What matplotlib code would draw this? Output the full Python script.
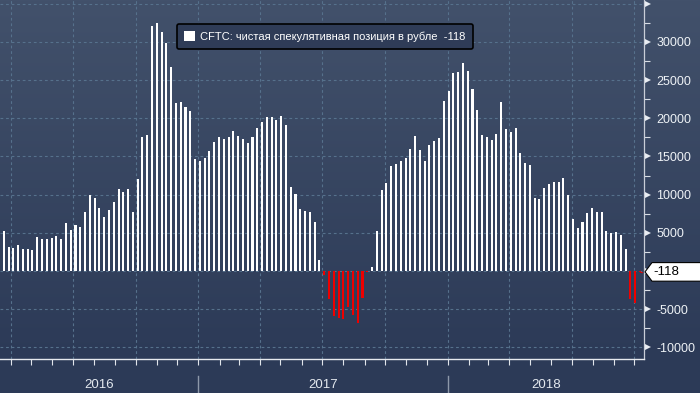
import numpy as np
import pandas as pd
import matplotlib
matplotlib.use("Agg")
import matplotlib.pyplot as plt
import matplotlib.dates as mdates
import matplotlib.ticker as mticker
from matplotlib.patches import Polygon
from matplotlib.transforms import IdentityTransform

plt.rcParams['font.family'] = ['Liberation Sans', 'DejaVu Sans']
plt.rcParams['axes.unicode_minus'] = False

# ---------------- data ----------------
series_label = "CFTC: чистая спекулятивная позиция в рубле  -118"
first_date = "2016-03-22"   # weekly (Tuesday) CFTC reports
net_position = [
    5280, 3140, 3010, 3400, 2880, 2880, 2750, 4450, 4190, 4190,
    4320, 4590, 4190, 6290, 5370, 6030, 5760, 7730, 9960, 9560,
    8250, 7070, 7990, 9040, 10740, 10350, 10740, 7730, 12050, 17550,
    17820, 32100, 32490, 31310, 29870, 26720, 22010, 22140, 21480, 20960,
    14670, 14410, 14800, 15720, 16900, 17550, 17290, 17550, 18340, 17690,
    17340, 16770, 17550, 18730, 19520, 20170, 20170, 19780, 20300, 19130,
    11000, 10090, 8120, 7860, 7730, 6420, 1440, -570, -3710, -5850,
    -6110, -6290, -4670, -5760, -6770, -3490, -150, 520, 5280, 10610,
    11530, 13760, 14020, 14410, 14800, 15980, 17690, 15850, 14410, 16510,
    17030, 17420, 22270, 23580, 25940, 26070, 27250, 26200, 23840, 21090,
    17820, 17550, 17160, 17950, 22140, 18600, 18210, 18730, 15460, 14150,
    13890, 9560, 9430, 10870, 11400, 11660, 11660, 12180, 9960, 6810,
    5630, 6420, 7600, 8250, 7730, 7730, 5240, 4980, 5110, 4720,
    2880, -3710, -4150, -118,
]
dates = pd.date_range(first_date, periods=len(net_position), freq="7D")
y_ticks = [-10000, -5000, 5000, 10000, 15000, 20000, 25000, 30000]
year_labels = ["2016", "2017", "2018"]

# ---------------- style ----------------
W, H = 700, 393
fig = plt.figure(figsize=(W / 100, H / 100), dpi=100)
fig.patch.set_facecolor("#2c3a57")

# background gradient
bg = fig.add_axes([0, 0, 1, 1], zorder=-10)
bg.set_axis_off()
top_c = np.array([0x42, 0x51, 0x6b]) / 255
bot_c = np.array([0x2c, 0x3a, 0x57]) / 255
n = 393
grad = np.zeros((n, 1, 3))
for i in range(n):
    t = min(i / 359.0, 1.0)
    grad[i, 0, :] = top_c * (1 - t) + bot_c * t
bg.imshow(grad, aspect="auto", extent=[0, 1, 0, 1], origin="upper")
bg.set_xlim(0, 1)
bg.set_ylim(0, 1)

ax_left, ax_right = 0.0, 644 / W
ax_bottom, ax_top = 1 - 359 / H, 1.0
ax = fig.add_axes([ax_left, ax_bottom, ax_right - ax_left, ax_top - ax_bottom])
ax.set_facecolor("none")

colors = ["white" if v >= 0 else "#ee0000" for v in net_position]
ax.bar(dates, net_position, width=3.0, color=colors, linewidth=0,
       label=series_label, zorder=3)

xmin = pd.Timestamp("2016-03-16 12:00")
xmax = pd.Timestamp("2018-10-15 00:00")
ax.set_xlim(xmin, xmax)
ax.set_ylim(-11530, 35500)

# grid
grid_kw = dict(color="#56718c", linestyle=(0, (2.5, 2.5)), linewidth=0.8)
ax.xaxis.set_major_locator(mdates.MonthLocator(bymonth=[1, 4, 7, 10]))
ax.xaxis.set_minor_locator(mdates.MonthLocator())
ax.xaxis.set_major_formatter(mticker.NullFormatter())
ax.grid(axis="x", which="major", **grid_kw)
ax.set_yticks(list(range(-10000, 35001, 5000)))
ax.yaxis.set_minor_locator(mticker.FixedLocator(list(range(-7500, 35001, 5000))))
ax.grid(axis="y", which="major", **grid_kw)
ax.set_axisbelow(True)

# y axis on right
ax.yaxis.tick_right()
ax.yaxis.set_major_formatter(mticker.FuncFormatter(
    lambda v, p: f"{int(v)}" if int(v) in y_ticks else ""))
ax.tick_params(axis="y", which="major", length=0, pad=9, labelsize=9,
               labelcolor="#eef2f6")
ax.tick_params(axis="y", which="minor", length=4, width=0.8, color="#d8dde5",
               direction="out")
ax.tick_params(axis="x", which="both", length=4, width=0.8, color="#e0e4ea",
               direction="out")
# triangle markers for major y ticks
ymarks = list(range(-10000, 35001, 5000))
ax.plot([1.0065] * len(ymarks), ymarks, linestyle="none", marker=">",
        markersize=4.5, color="#e8ecf2", markeredgewidth=0,
        transform=ax.get_yaxis_transform(), clip_on=False, zorder=5)

for s in ["left", "top"]:
    ax.spines[s].set_visible(False)
ax.spines["right"].set_color("#c9ced8")
ax.spines["right"].set_linewidth(0.9)
ax.spines["bottom"].set_color("#e6e9ee")
ax.spines["bottom"].set_linewidth(1.0)

# year separators and labels
bounds = [xmin] + [pd.Timestamp(f"{y}-01-01") for y in (2017, 2018)] + [xmax]
for b in bounds[1:-1]:
    ax.plot([b, b], [-(376 - 359) / 359, -(393 - 359) / 359], color="#8d98aa",
            linewidth=1.0, transform=ax.get_xaxis_transform(), clip_on=False)
for i, lab in enumerate(year_labels):
    mid = bounds[i] + (bounds[i + 1] - bounds[i]) / 2
    ax.text(mid, -(385 - 359) / 359, lab, transform=ax.get_xaxis_transform(),
            ha="center", va="center", fontsize=9.5, color="#e4e9ef")

# last-value dashed line
ax.plot([dates[-1], xmax], [net_position[-1]] * 2, color="#ee0000",
        linestyle=(0, (2, 2)), linewidth=0.8, zorder=4, clip_on=False)

# legend
leg = ax.legend(loc="upper left", bbox_to_anchor=(177 / 644, (359 - 24) / 359),
                borderaxespad=0, fontsize=8, labelcolor="white",
                handlelength=1.0, handleheight=1.0, handletextpad=0.45,
                borderpad=0.65, fancybox=True, framealpha=1,
                facecolor="#2f3c57", edgecolor="black")
leg.get_frame().set_linewidth(1.2)

# last value callout
fig.canvas.draw()
xd = ax.transAxes.transform((1, 0))[0]
yd = ax.transData.transform((0, net_position[-1]))[1]
poly = Polygon([(xd + 1, yd), (xd + 8, yd + 9.3), (W + 2, yd + 9.3),
                (W + 2, yd - 9.3), (xd + 8, yd - 9.3)], closed=True,
               facecolor="white", edgecolor="black", linewidth=0.8,
               transform=IdentityTransform(), zorder=10)
fig.add_artist(poly)
fig.text(xd + 9, yd, f"{net_position[-1]}", transform=IdentityTransform(),
         ha="left", va="center", fontsize=9.5, color="black", zorder=11)

fig.savefig("out.png", dpi=100, facecolor=fig.get_facecolor())
